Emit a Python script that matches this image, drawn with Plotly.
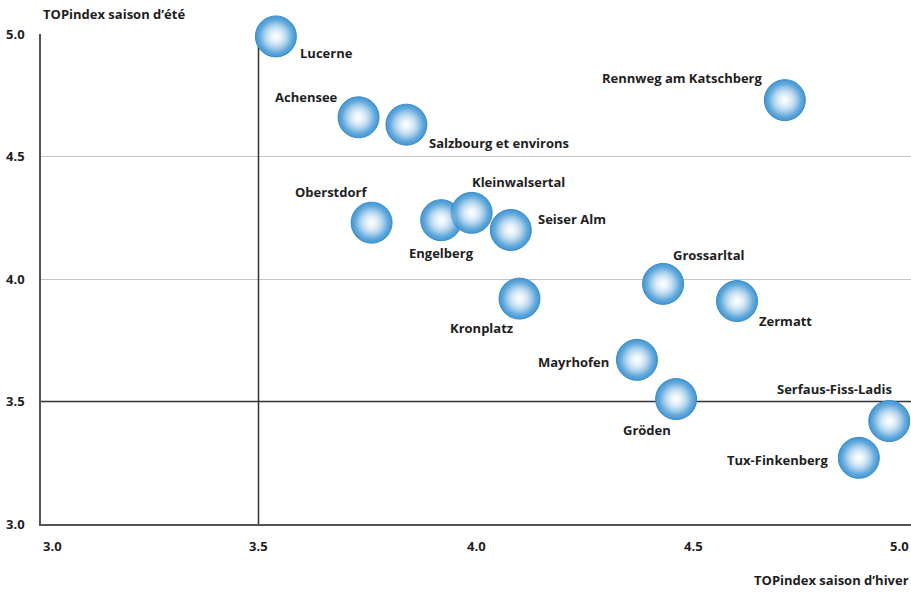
import plotly.graph_objects as go

# ---- data ----
resorts = ["Lucerne", "Achensee", "Salzbourg et environs", "Rennweg am Katschberg",
           "Oberstdorf", "Engelberg", "Kleinwalsertal", "Seiser Alm", "Kronplatz",
           "Grossarltal", "Zermatt", "Mayrhofen", "Gröden", "Serfaus-Fiss-Ladis",
           "Tux-Finkenberg"]
winter_index = [3.54, 3.73, 3.84, 4.71, 3.76, 3.92, 3.99, 4.08, 4.10,
                4.43, 4.60, 4.37, 4.46, 4.95, 4.88]
summer_index = [4.99, 4.66, 4.63, 4.73, 4.23, 4.24, 4.27, 4.20, 3.92,
                3.98, 3.91, 3.67, 3.51, 3.42, 3.27]
tick_values = [3.0, 3.5, 4.0, 4.5, 5.0]
tick_labels = ["3.0", "3.5", "4.0", "4.5", "5.0"]
y_title = "TOPindex saison d’été"
x_title = "TOPindex saison d’hiver"

# ---- label placement (style) ----
label_style = {
    "Lucerne": ("left", 22, -17),
    "Achensee": ("right", -19, 20),
    "Salzbourg et environs": ("left", 21, -18),
    "Rennweg am Katschberg": ("right", -20, 22),
    "Oberstdorf": ("right", -3, 31),
    "Engelberg": ("center", 0, -33),
    "Kleinwalsertal": ("left", -2, 31),
    "Seiser Alm": ("left", 25, 11),
    "Kronplatz": ("right", -5, -29),
    "Grossarltal": ("left", 8, 29),
    "Zermatt": ("left", 20, -20),
    "Mayrhofen": ("right", -26, -2),
    "Gröden": ("right", -3, -31),
    "Serfaus-Fiss-Ladis": ("right", 5, 32),
    "Tux-Finkenberg": ("right", -28, -2),
}

FONT = "Open Sans"
TXT = "#1e1e1e"

fig = go.Figure()
# sphere body
fig.add_trace(go.Scatter(
    x=winter_index, y=summer_index, mode="markers", cliponaxis=False,
    marker=dict(size=41, color="#4096d3",
                gradient=dict(type="radial", color="#f4f9fe"),
                line=dict(color="#3a8cca", width=1)),
    hoverinfo="text", text=resorts, showlegend=False))
# soft highlight core
fig.add_trace(go.Scatter(
    x=winter_index, y=summer_index, mode="markers", cliponaxis=False,
    marker=dict(size=32, color="rgba(235,244,252,0)",
                gradient=dict(type="radial", color="rgba(255,255,255,0.85)"),
                line=dict(width=0)),
    hoverinfo="skip", showlegend=False))

annotations = []
for name, xv, yv in zip(resorts, winter_index, summer_index):
    anchor, dx, dy = label_style[name]
    annotations.append(dict(x=xv, y=yv, xref="x", yref="y", text=name,
                            showarrow=False, xanchor=anchor, yanchor="middle",
                            xshift=dx, yshift=dy,
                            font=dict(family=FONT, size=13, color=TXT, weight="bold")))

# x tick labels
for i, (tv, tl) in enumerate(zip(tick_values, tick_labels)):
    anchor = "left" if i == 0 else ("right" if i == len(tick_values) - 1 else "center")
    annotations.append(dict(x=tv, y=0, xref="x", yref="paper", text=tl, showarrow=False,
                            xanchor=anchor, yanchor="middle", yshift=-22,
                            font=dict(family=FONT, size=13, color=TXT, weight="bold")))

annotations.append(dict(x=0, y=1, xref="paper", yref="paper", text=y_title, showarrow=False,
                        xanchor="left", yanchor="middle", yshift=20,
                        font=dict(family=FONT, size=13, color=TXT, weight="bold")))
annotations.append(dict(x=1, y=0, xref="paper", yref="paper", text=x_title, showarrow=False,
                        xanchor="right", yanchor="middle", yshift=-56,
                        font=dict(family=FONT, size=13, color=TXT, weight="bold")))

shapes = [
    dict(type="line", xref="x", yref="y", x0=3.5, x1=3.5, y0=3.0, y1=5.0,
         line=dict(color="#333333", width=1.5), layer="between"),
    dict(type="line", xref="x", yref="y", x0=3.0, x1=5.0, y0=3.5, y1=3.5,
         line=dict(color="#333333", width=1.5), layer="between"),
]

fig.update_layout(
    width=911, height=592,
    margin=dict(l=41, r=0, t=34, b=68),
    paper_bgcolor="white", plot_bgcolor="white",
    annotations=annotations, shapes=shapes,
    xaxis=dict(range=[3.0, 5.0], tickvals=tick_values, showticklabels=False,
               showgrid=False, zeroline=False, showline=True,
               linecolor="#555555", linewidth=1.5, ticks=""),
    yaxis=dict(range=[3.0, 5.0], tickvals=tick_values, ticktext=tick_labels,
               showgrid=True, gridcolor="#c4c4c4", gridwidth=1,
               zeroline=False, showline=True, linecolor="#555555", linewidth=1.5,
               ticks="", ticklabelstandoff=12,
               tickfont=dict(family=FONT, size=13, color=TXT, weight="bold")),
)

fig.write_html("out.html")
